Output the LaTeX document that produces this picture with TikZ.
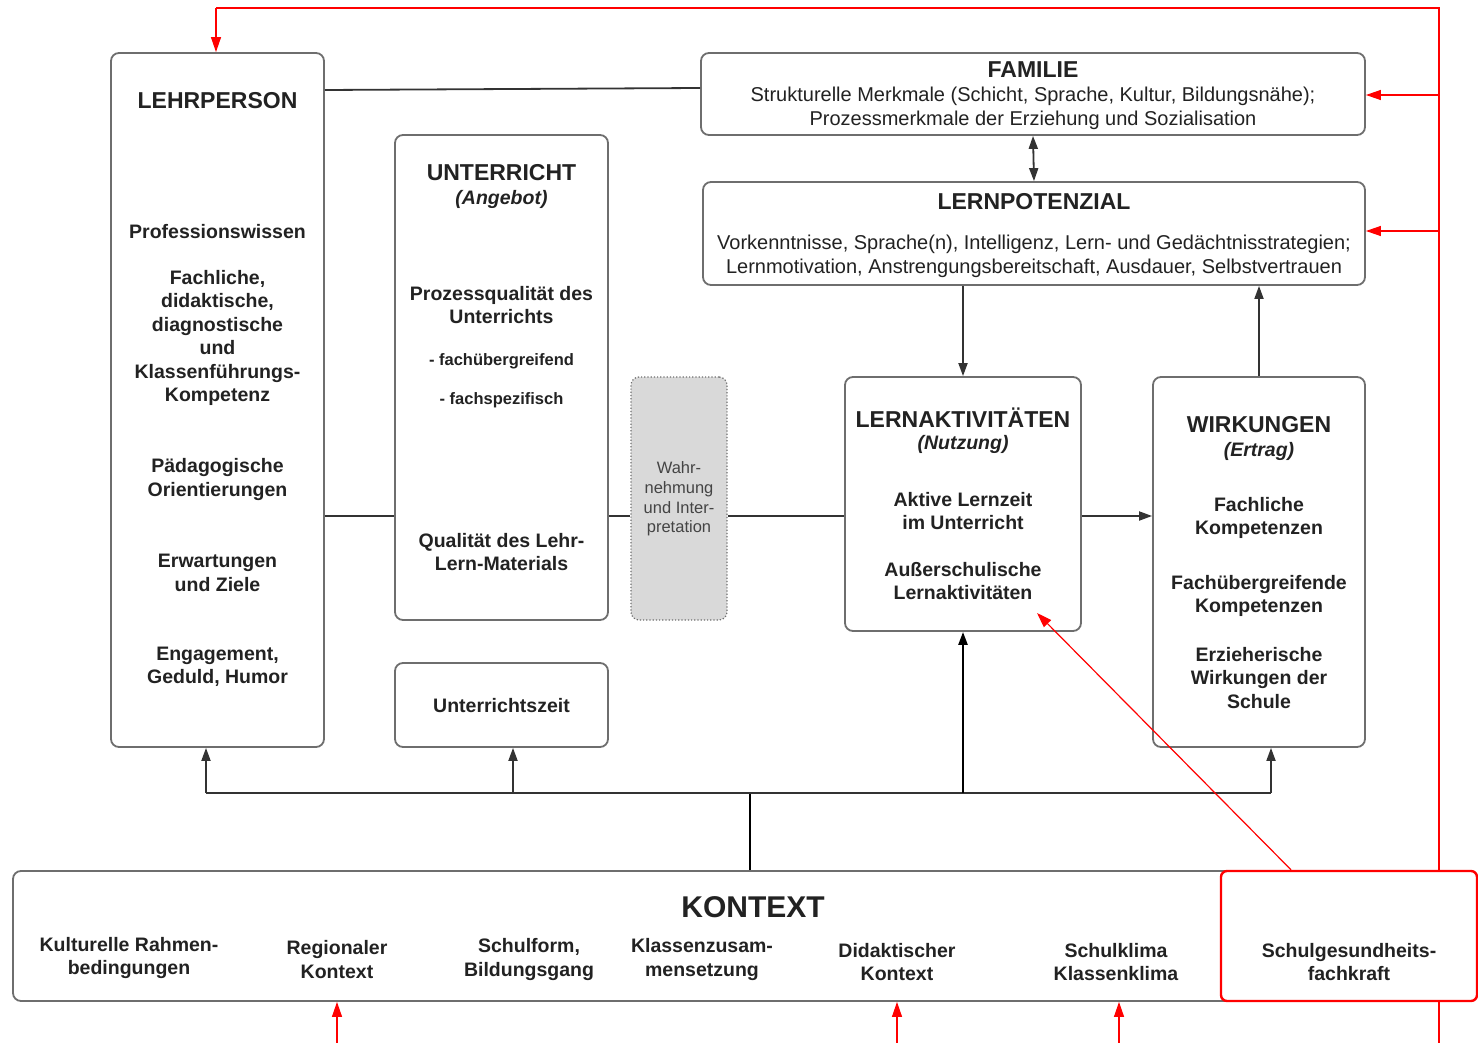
\documentclass[tikz,border=0pt]{standalone}
\usepackage{fontspec}
\setmainfont{Liberation Sans}
\usetikzlibrary{arrows.meta,backgrounds}
\definecolor{boxgray}{HTML}{6E6E6E}
\definecolor{linegray}{HTML}{333333}
\definecolor{txt}{HTML}{222222}
\definecolor{wahrfill}{HTML}{D9D9D9}
\definecolor{wahrtxt}{HTML}{444444}
\tikzset{
  box/.style={draw=boxgray, line width=1.8pt, rounded corners=8pt, fill=white, inner sep=0pt},
  conn/.style={draw=linegray, line width=1.8pt},
  arr/.style={conn, -{Triangle[length=13pt,width=9pt]}},
  dblarr/.style={conn, {Triangle[length=13pt,width=9pt]}-{Triangle[length=13pt,width=9pt]}},
  redl/.style={draw=red, line width=1.2pt},
  redarr/.style={redl, -{Triangle[length=15pt,width=10pt]}},
  ttl/.style={font=\fontsize{23}{27}\selectfont\bfseries, text=txt, align=center, inner sep=0pt},
  bod/.style={font=\fontsize{19.5}{23.4}\selectfont\bfseries, text=txt, align=center, inner sep=0pt},
  subt/.style={font=\fontsize{19.5}{23.4}\selectfont\bfseries\itshape, text=txt, align=center, inner sep=0pt},
  small/.style={font=\fontsize{16.5}{19.7}\selectfont\bfseries, text=txt, align=center, inner sep=0pt},
  reg/.style={font=\fontsize{20}{24}\selectfont, text=txt, align=center, inner sep=0pt},
}
\begin{document}
\begin{tikzpicture}[x=1pt,y=-1pt]
\useasboundingbox (0,0) rectangle (1478,1043);

% boxes
\node[box, minimum width=213pt, minimum height=694pt] (lehr) at (217.5,400) {};
\node[box, minimum width=664pt, minimum height=82pt] (fam) at (1033,94) {};
\node[box, minimum width=662pt, minimum height=103pt] (lpot) at (1034,233.5) {};
\node[box, minimum width=213pt, minimum height=485pt] (unt) at (501.5,377.5) {};
\node[box, minimum width=213pt, minimum height=84pt] (uzeit) at (501.5,705) {};
\node[draw=boxgray, line width=1.2pt, dotted, fill=wahrfill, rounded corners=8pt, minimum width=96pt, minimum height=243pt, inner sep=0pt] (wahr) at (679,498.5) {};
\node[box, minimum width=236pt, minimum height=254pt] (lakt) at (963,504) {};
\node[box, minimum width=212pt, minimum height=370pt] (wirk) at (1259,562) {};
\node[box, minimum width=1463pt, minimum height=130pt] (kon) at (744.5,936) {};
\node[draw=red, line width=2.4pt, rounded corners=6pt, fill=white, minimum width=256pt, minimum height=130pt, inner sep=0pt] (sgf) at (1349,936) {};

% texts LEHRPERSON
\node[ttl] (tLehr) at (217.5,101) {LEHRPERSON};
\node[bod] (tProf) at (217.5,232) {Professionswissen};
\node[bod] (tFach) at (217.5,338) {Fachliche,\\didaktische,\\diagnostische\\und\\Klassenführungs-\\Kompetenz};
\node[bod] (tPaed) at (217.5,479.5) {Pädagogische\\Orientierungen};
\node[bod] (tErw) at (217.5,573) {Erwartungen\\und Ziele};
\node[bod] (tEng) at (217.5,667) {Engagement,\\Geduld, Humor};

% UNTERRICHT
\node[ttl] (tUnt) at (501.5,173) {UNTERRICHT};
\node[subt] (tAng) at (501.5,199.5) {(Angebot)};
\node[bod] (tProz) at (501.5,305) {Prozessqualität des\\Unterrichts};
\node[small] (tFue) at (501.5,361.5) {- fachübergreifend};
\node[small] (tFsp) at (501.5,400.5) {- fachspezifisch};
\node[bod] (tQual) at (501.5,552) {Qualität des Lehr-\\Lern-Materials};
\node[bod] (tUz) at (501.5,706) {Unterrichtszeit};

% Wahrnehmung
\node[font=\fontsize{16.5}{19.7}\selectfont, text=wahrtxt, align=center, inner sep=0pt] (tWahr) at (679,499) {Wahr-\\nehmung\\und Inter-\\pretation};

% LERNAKTIVITAETEN
\node[ttl] (tLakt) at (963,418) {LERNAKTIVITÄTEN};
\node[subt] (tNutz) at (963,444.5) {(Nutzung)};
\node[bod] (tAkt) at (963,511) {Aktive Lernzeit\\im Unterricht};
\node[bod] (tAus) at (963,581) {Außerschulische\\Lernaktivitäten};

% WIRKUNGEN
\node[ttl] (tWirk) at (1259,425) {WIRKUNGEN};
\node[subt] (tErt) at (1259,451.5) {(Ertrag)};
\node[bod] (tFK) at (1259,518) {Fachliche\\Kompetenzen};
\node[bod] (tFUK) at (1259,596) {Fachübergreifende\\Kompetenzen};
\node[bod] (tErz) at (1259,678) {Erzieherische\\Wirkungen der\\Schule};

% FAMILIE
\node[ttl] (tFam) at (1033,70) {FAMILIE};
\node[reg] (tFamB) at (1033,108.5) {Strukturelle Merkmale (Schicht, Sprache, Kultur, Bildungsnähe);\\Prozessmerkmale der Erziehung und Sozialisation};

% LERNPOTENZIAL
\node[ttl] (tLpot) at (1034,202) {LERNPOTENZIAL};
\node[reg] (tLpotB) at (1034,256) {Vorkenntnisse, Sprache(n), Intelligenz, Lern- und Gedächtnisstrategien;\\Lernmotivation, Anstrengungsbereitschaft, Ausdauer, Selbstvertrauen};

% KONTEXT
\node[font=\fontsize{30}{34}\selectfont\bfseries, text=txt, inner sep=0pt] (tKon) at (753,907) {KONTEXT};
\node[bod] (tKul) at (129,958) {Kulturelle Rahmen-\\bedingungen};
\node[bod] (tReg) at (337,959.5) {Regionaler\\Kontext};
\node[bod] (tSchf) at (529,959.5) {Schulform,\\Bildungsgang};
\node[bod] (tKlz) at (702,959.5) {Klassenzusam-\\mensetzung};
\node[bod] (tDid) at (897,962) {Didaktischer\\Kontext};
\node[bod] (tSk) at (1116,962) {Schulklima\\Klassenklima};
\node[bod] (tSgf) at (1349,962) {Schulgesundheits-\\fachkraft};

% black connectors
\draw[conn] (lehr.east |- 0,90) -- (fam.west |- 0,88);
\draw[dblarr] (fam.south) -- (lpot.north);
\draw[conn] (lehr.east |- 0,516) -- (unt.west |- 0,516);
\draw[conn] (unt.east |- 0,516) -- (wahr.west |- 0,516);
\draw[conn] (wahr.east |- 0,516) -- (lakt.west |- 0,516);
\draw[arr] (lakt.east |- 0,516) -- (wirk.west |- 0,516);
\draw[arr] (lpot.south -| lakt.north) -- (lakt.north);
\draw[arr] (wirk.north) -- (wirk.north |- lpot.south);

\coordinate (busL) at (206,793);
\coordinate (busR) at (1271,793);
\coordinate (busM) at (750,793);
\draw[draw=black, line width=2.4pt] (kon.north -| busM) -- (busM);
\draw[conn] (busL) -- (busR);
\draw[arr] (busL) -- (lehr.south -| busL);
\draw[arr] (513,793) -- (uzeit.south -| 513,0);
\draw[arr, draw=black, line width=2.4pt] (lakt.south |- busL) -- (lakt.south);
\draw[arr] (busR) -- (wirk.south -| busR);

% red connectors
\coordinate (rB) at (1439,1043);
\coordinate (rT) at (1439,8);
\coordinate (rL) at (216,8);
\begin{scope}[on background layer]
\draw[redl] (rB) -- (rT) -- (rL);
\end{scope}
\draw[redarr] (rL) -- (lehr.north -| rL);
\draw[redarr] (rT |- 0,95) -- (fam.east |- 0,95);
\draw[redarr] (rT |- 0,231) -- (lpot.east |- 0,231);
\coordinate (rTip) at (1037,613);
\draw[redarr] (sgf.north -| 1291,0) -- (rTip);
\coordinate (rb1) at (337,1043);
\coordinate (rb2) at (897,1043);
\coordinate (rb3) at (1119,1043);
\draw[redarr] (rb1) -- (kon.south -| rb1);
\draw[redarr] (rb2) -- (kon.south -| rb2);
\draw[redarr] (rb3) -- (kon.south -| rb3);
\end{tikzpicture}
\end{document}
